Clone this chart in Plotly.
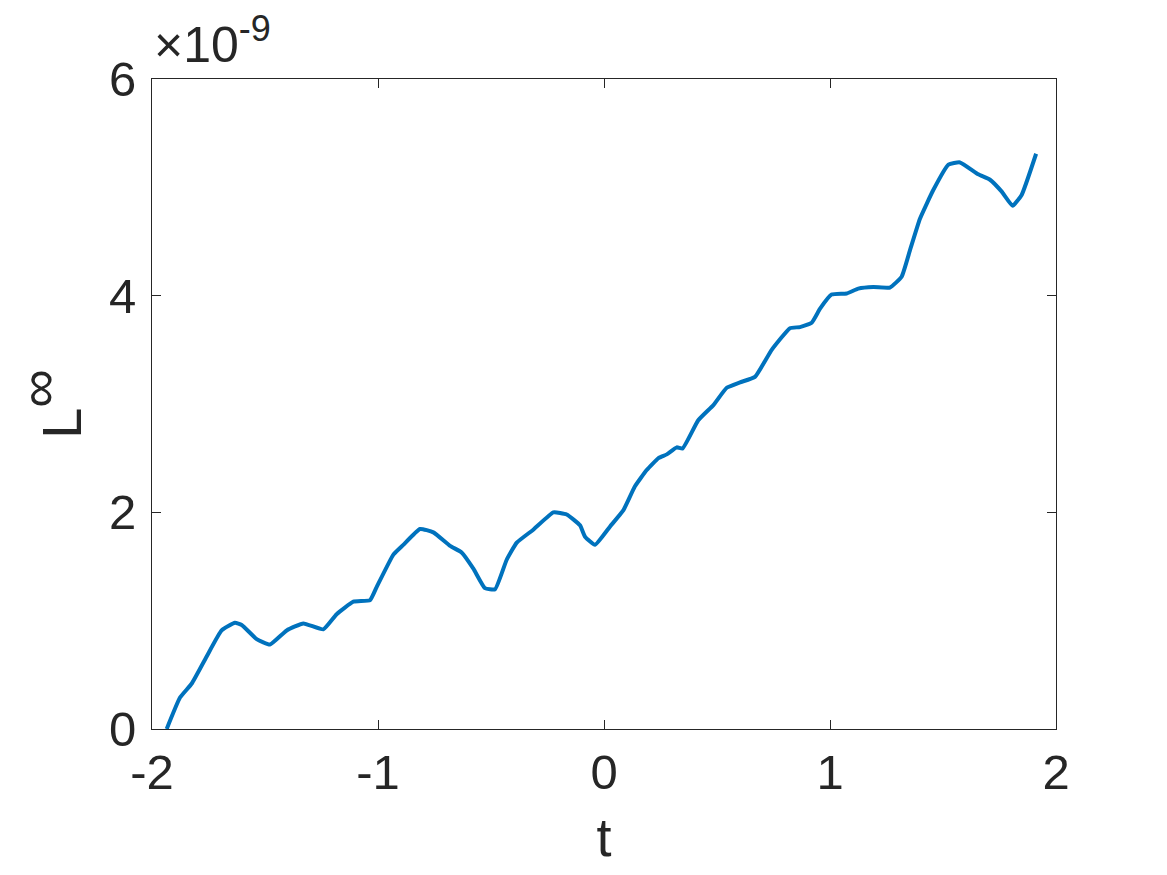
import plotly.graph_objects as go

# L-infinity error vs t, values in units of 1e-9
t_vals = [-1.935, -1.876, -1.824, -1.758, -1.692, -1.633, -1.603, -1.537, -1.478,
          -1.404, -1.330, -1.242, -1.183, -1.109, -1.035, -1.006, -0.932, -0.888,
          -0.814, -0.755, -0.681, -0.630, -0.578, -0.527, -0.482, -0.431, -0.386,
          -0.313, -0.224, -0.165, -0.106, -0.084, -0.040, 0.027, 0.086, 0.137,
          0.189, 0.241, 0.278, 0.322, 0.348, 0.417, 0.484, 0.543, 0.602, 0.668,
          0.742, 0.823, 0.867, 0.919, 0.956, 1.007, 1.074, 1.125, 1.192, 1.265,
          1.317, 1.354, 1.398, 1.457, 1.524, 1.575, 1.656, 1.708, 1.760, 1.808,
          1.848, 1.912]
linf_e9 = [0.0, 0.29, 0.42, 0.67, 0.91, 0.98, 0.96, 0.83, 0.78,
           0.91, 0.975, 0.92, 1.06, 1.175, 1.19, 1.31, 1.61, 1.70,
           1.846, 1.815, 1.69, 1.63, 1.48, 1.30, 1.29, 1.56, 1.72,
           1.84, 2.0, 1.98, 1.88, 1.775, 1.70, 1.87, 2.02, 2.24,
           2.39, 2.50, 2.535, 2.60, 2.59, 2.85, 2.99, 3.15, 3.20, 3.25,
           3.50, 3.70, 3.71, 3.75, 3.88, 4.01, 4.02, 4.065, 4.08, 4.075,
           4.175, 4.42, 4.71, 4.975, 5.21, 5.23, 5.12, 5.07, 4.96, 4.83,
           4.93, 5.31]

x_ticks = [-2, -1, 0, 1, 2]
y_ticks = [0, 2, 4, 6]

TEXT_COLOR = "#262626"
LINE_COLOR = "#0072BD"
FONT = "Liberation Sans, Arial, sans-serif"

fig = go.Figure()
fig.add_trace(go.Scatter(x=t_vals, y=linf_e9, mode="lines",
                         line=dict(color=LINE_COLOR, width=4, shape="spline", smoothing=0.4)))

axis_common = dict(showgrid=False, zeroline=False, showline=True, linecolor=TEXT_COLOR,
                   linewidth=1, mirror="ticks", ticks="inside", ticklen=9, tickcolor=TEXT_COLOR,
                   tickfont=dict(size=49, color=TEXT_COLOR, family=FONT))

# page body has an 8px margin, so the figure is shrunk by that amount
fig.update_layout(
    width=1159, height=867,
    plot_bgcolor="white", paper_bgcolor="white",
    showlegend=False,
    font=dict(family=FONT, color=TEXT_COLOR),
    margin=dict(l=144, r=111, t=71, b=146, autoexpand=False),
    xaxis=dict(range=[-2, 2], tickvals=x_ticks, ticktext=[str(v) for v in x_ticks],
               title=dict(text="t", font=dict(size=54, color=TEXT_COLOR), standoff=20),
               **axis_common),
    yaxis=dict(range=[0, 6], tickvals=y_ticks, ticktext=[str(v) for v in y_ticks],
               ticklabelstandoff=5,
               title=dict(text="L<sup><span style='font-size:54px'>∞</span></sup>",
                          font=dict(size=56, color=TEXT_COLOR), standoff=12),
               **axis_common),
    annotations=[dict(text="×10<sup><span style='font-size:36px'>-9</span></sup>",
                      xref="paper", yref="paper", x=0.0, y=1.0,
                      xanchor="left", yanchor="bottom", showarrow=False, yshift=4,
                      font=dict(size=50, color=TEXT_COLOR, family=FONT))],
)

fig.write_html("out.html")
